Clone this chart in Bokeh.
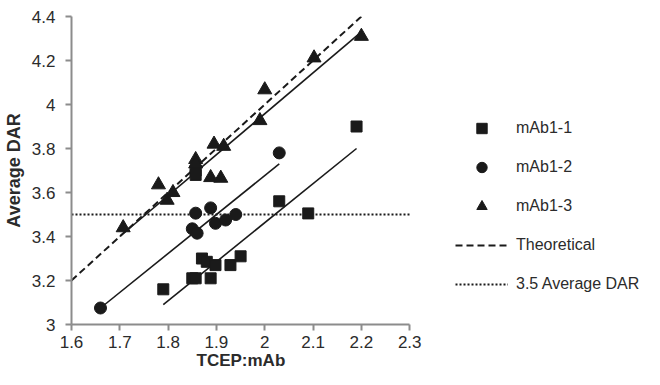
from bokeh.plotting import figure
from bokeh.models import Range1d, FixedTicker, Legend, LegendItem, Title
from bokeh.embed import file_html
from bokeh.resources import INLINE

# ---- data ----
sq_x = [1.79, 1.85, 1.857, 1.87, 1.88, 1.888, 1.898, 1.929, 1.95, 1.857, 1.857, 2.03, 2.09, 2.19]
sq_y = [3.16, 3.21, 3.21, 3.30, 3.285, 3.21, 3.27, 3.27, 3.31, 3.70, 3.68, 3.56, 3.505, 3.90]

ci_x = [1.66, 1.85, 1.86, 1.857, 1.888, 1.898, 1.919, 1.94, 2.03]
ci_y = [3.075, 3.435, 3.415, 3.506, 3.53, 3.46, 3.475, 3.50, 3.78]

tr_x = [1.707, 1.78, 1.798, 1.81, 1.857, 1.857, 1.888, 1.909, 1.895, 1.915, 1.99, 2.0, 2.102, 2.2]
tr_y = [3.44, 3.635, 3.565, 3.60, 3.75, 3.73, 3.668, 3.665, 3.82, 3.81, 3.927, 4.067, 4.212, 4.31]

# fitted trend lines (end points)
fit1_x = [1.79, 2.19]
fit1_y = [3.09, 3.80]
fit2_x = [1.66, 2.03]
fit2_y = [3.075, 3.73]
fit3_x = [1.70, 2.20]
fit3_y = [3.40, 4.33]

theo_x = [1.6, 2.2]
theo_y = [3.2, 4.4]

target_x = [1.6, 2.3]
target_y = [3.5, 3.5]

x_ticks = [1.6, 1.7, 1.8, 1.9, 2.0, 2.1, 2.2, 2.3]
x_tick_labels = ["1.6", "1.7", "1.8", "1.9", "2", "2.1", "2.2", "2.3"]
y_ticks = [3.0, 3.2, 3.4, 3.6, 3.8, 4.0, 4.2, 4.4]
y_tick_labels = ["3", "3.2", "3.4", "3.6", "3.8", "4", "4.2", "4.4"]

series_names = ["mAb1-1", "mAb1-2", "mAb1-3", "Theoretical", "3.5 Average DAR"]

# ---- figure ----
FONT = "Liberation Sans"
INK = "#1a1a1a"
TXT = "#2b2b2b"
AX = "#8c8c8c"

# frame is widened to the right (to hold the legend); the x axis is bounded to 1.6-2.3
p = figure(width=644, height=369, output_backend="svg", toolbar_location=None,
           x_range=Range1d(1.6, 2.786), y_range=Range1d(3.0, 4.4),
           min_border_left=71, min_border_right=0, min_border_top=16, min_border_bottom=45)
p.outline_line_color = None
p.grid.visible = False
p.background_fill_color = "white"
p.border_fill_color = "white"

def lbl_map(vals, labels):
    d = {}
    for v, l in zip(vals, labels):
        d[v] = l
        d[l] = l
    return d

p.xaxis.ticker = FixedTicker(ticks=x_ticks)
p.yaxis.ticker = FixedTicker(ticks=y_ticks)
p.xaxis.bounds = (x_ticks[0], x_ticks[-1])
p.yaxis.bounds = (y_ticks[0], y_ticks[-1])
p.xaxis.major_label_overrides = lbl_map(x_ticks, x_tick_labels)
p.yaxis.major_label_overrides = lbl_map(y_ticks, y_tick_labels)

for ax in (p.xaxis, p.yaxis):
    ax.axis_line_color = AX
    ax.axis_line_width = 2
    ax.major_tick_line_color = AX
    ax.major_tick_line_width = 2
    ax.major_tick_out = 6
    ax.major_tick_in = 0
    ax.minor_tick_line_color = None
    ax.major_label_text_font = FONT
    ax.major_label_text_font_size = "17px"
    ax.major_label_text_color = TXT
    ax.axis_label_text_font = FONT
    ax.axis_label_text_font_style = "bold"
    ax.axis_label_text_color = TXT

p.yaxis.axis_label = "Average DAR"
p.yaxis.axis_label_text_font_size = "18px"
p.xaxis.major_label_standoff = 5
p.yaxis.major_label_standoff = 10
p.yaxis.axis_label_standoff = 5

xtitle = Title(text="TCEP:mAb", align="left", offset=125, standoff=-4,
               text_font=FONT, text_font_size="17px", text_font_style="bold",
               text_color=TXT)
p.add_layout(xtitle, "below")

# lines
r_theo = p.line(theo_x, theo_y, line_color=INK, line_width=2, line_dash="7 4")
r_target = p.line(target_x, target_y, line_color=INK, line_width=2, line_dash="2 2")
p.line(fit1_x, fit1_y, line_color=INK, line_width=1.6)
p.line(fit2_x, fit2_y, line_color=INK, line_width=1.6)
p.line(fit3_x, fit3_y, line_color=INK, line_width=1.6)

# markers
r_sq = p.scatter(sq_x, sq_y, marker="square", size=11, fill_color=INK, line_color=INK)
r_ci = p.scatter(ci_x, ci_y, marker="circle", size=12, fill_color=INK, line_color=INK)
r_tr = p.scatter(tr_x, tr_y, marker="triangle", size=14, fill_color=INK, line_color=INK)

legend = Legend(items=[
    LegendItem(label=series_names[0], renderers=[r_sq]),
    LegendItem(label=series_names[1], renderers=[r_ci]),
    LegendItem(label=series_names[2], renderers=[r_tr]),
    LegendItem(label=series_names[3], renderers=[r_theo]),
    LegendItem(label=series_names[4], renderers=[r_target]),
], location=(384, 27))
legend.border_line_color = None
legend.background_fill_alpha = 0
legend.padding = 0
legend.margin = 0
legend.glyph_width = 53
legend.glyph_height = 26
legend.spacing = 13
legend.label_standoff = 8
legend.label_text_font = FONT
legend.label_text_font_size = "16px"
legend.label_text_color = TXT
legend.label_height = 26
p.add_layout(legend, "center")

open("out.html", "w").write(file_html(p, INLINE))
